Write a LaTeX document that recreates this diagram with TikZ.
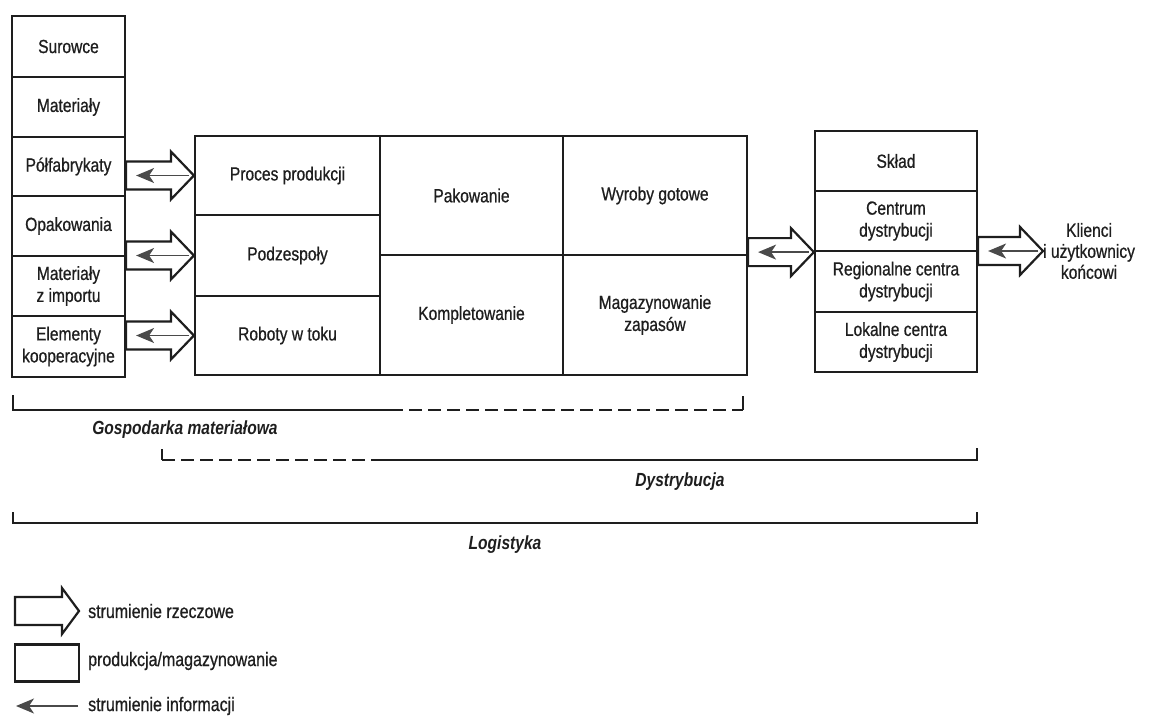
\documentclass[tikz,border=0pt]{standalone}
\usepackage{fontspec}
\setmainfont{Liberation Sans}[FakeStretch=0.82, UprightFeatures={FakeBold=0.7}]
\usetikzlibrary{arrows.meta,calc}
\definecolor{ink}{HTML}{1E1E1E}
\definecolor{infoc}{HTML}{4A4A4A}
\tikzset{
  cell/.style={draw=ink, line width=2.2pt, fill=white, align=center, inner sep=2pt,
    font=\fontsize{19}{22}\selectfont, text=ink},
  flow/.style={draw=ink, line width=2.2pt, fill=white, line join=miter},
  info/.style={draw=infoc, line width=1.5pt, -{Stealth[length=18pt,width=15pt,inset=5pt]}},
  br/.style={draw=ink, line width=2.2pt},
  brdash/.style={br, dash pattern=on 13pt off 6pt},
  brlabel/.style={font=\fontsize{19}{22}\selectfont\bfseries\itshape, text=ink},
  leg/.style={anchor=west, font=\fontsize{19.5}{22}\selectfont, text=ink, inner sep=0pt}
}
\newcommand\flowarrow[2]{%
  \draw[flow] let \p1=(#1), \p2=(#2) in
    (\x1,\y2+14pt) -- (\x2-23pt,\y2+14pt) -- (\x2-23pt,\y2+24pt) -- (\x2,\y2)
    -- (\x2-23pt,\y2-24pt) -- (\x2-23pt,\y2-14pt) -- (\x1,\y2-14pt) -- cycle;
  \draw[info] let \p1=(#1), \p2=(#2) in (\x2-5pt,\y2) -- (\x1+10pt,\y2);
}
\begin{document}
\begin{tikzpicture}[x=1pt,y=-1pt]
\useasboundingbox (0,0) rectangle (1149,724);

% left column
\node[cell, minimum width=113pt, minimum height=61pt] (sur) at (68.5,46.5) {Surowce};
\node[cell, minimum width=113pt, minimum height=60pt] (mat) at (68.5,107) {Materiały};
\node[cell, minimum width=113pt, minimum height=59pt] (pol) at (68.5,166.5) {Półfabrykaty};
\node[cell, minimum width=113pt, minimum height=60pt] (opa) at (68.5,226) {Opakowania};
\node[cell, minimum width=113pt, minimum height=60pt] (imp) at (68.5,286) {Materiały\\z importu};
\node[cell, minimum width=113pt, minimum height=61pt] (ele) at (68.5,346.5) {Elementy\\kooperacyjne};

% main block
\node[cell, minimum width=185pt, minimum height=79pt] (pro) at (287.5,175.5) {Proces produkcji};
\node[cell, minimum width=185pt, minimum height=81pt] (pod) at (287.5,255.5) {Podzespoły};
\node[cell, minimum width=185pt, minimum height=79pt] (rob) at (287.5,335.5) {Roboty w toku};
\node[cell, minimum width=183pt, minimum height=119pt] (pak) at (471.5,195.5) {Pakowanie};
\node[cell, minimum width=183pt, minimum height=120pt] (kom) at (471.5,315) {Kompletowanie};
\node[cell, minimum width=184pt, minimum height=119pt] (wyr) at (655,195.5) {Wyroby gotowe};
\node[cell, minimum width=184pt, minimum height=120pt] (mag) at (655,315) {Magazynowanie\\zapasów};

% right block
\node[cell, minimum width=162pt, minimum height=60pt] (skl) at (896,161) {Skład};
\node[cell, minimum width=162pt, minimum height=60pt] (cen) at (896,221) {Centrum\\dystrybucji};
\node[cell, minimum width=162pt, minimum height=61pt] (reg) at (896,281.5) {Regionalne centra\\dystrybucji};
\node[cell, minimum width=162pt, minimum height=60pt] (lok) at (896,342) {Lokalne centra\\dystrybucji};

\node[anchor=west, align=center, inner sep=0pt, font=\fontsize{19}{21}\selectfont, text=ink] (kl) at (1043,251) {Klienci\\i użytkownicy\\końcowi};

% flows
\flowarrow{pol.east}{pro.west}
\flowarrow{pol.east}{pod.west}
\flowarrow{pol.east}{rob.west}
\flowarrow{wyr.east}{cen.south west}
\flowarrow{cen.south east}{kl.west}

% brackets
\draw[br] (13,395) -- (13,410) -- (390,410);
\draw[brdash] (390,410) -- (743,410);
\draw[br] (743,410) -- (743,396);
\node[brlabel] (gm) at (185,430) {Gospodarka materiałowa};

\draw[br] (162,449) -- (162,460);
\draw[brdash] (162,460) -- (380,460);
\draw[br] (380,460) -- (977,460) -- (977,448);
\node[brlabel] (dy) at (680,482) {Dystrybucja};

\draw[br] (13,512) -- (13,523) -- (977,523) -- (977,512);
\node[brlabel] (lo) at (505,545) {Logistyka};

% legend
\draw[flow] (15,597) -- (62,597) -- (62,588) -- (79,611) -- (62,634) -- (62,625) -- (15,625) -- cycle;
\node[leg] (l1) at (88,611) {strumienie rzeczowe};
\node[cell, minimum width=64pt, minimum height=37pt] (lr) at (47,663) {};
\node[leg] (l2) at (88,661) {produkcja/magazynowanie};
\coordinate (li) at (78,706);
\draw[info] (li) -- (16,706);
\node[leg] (l3) at (88,706) {strumienie informacji};
\end{tikzpicture}
\end{document}
